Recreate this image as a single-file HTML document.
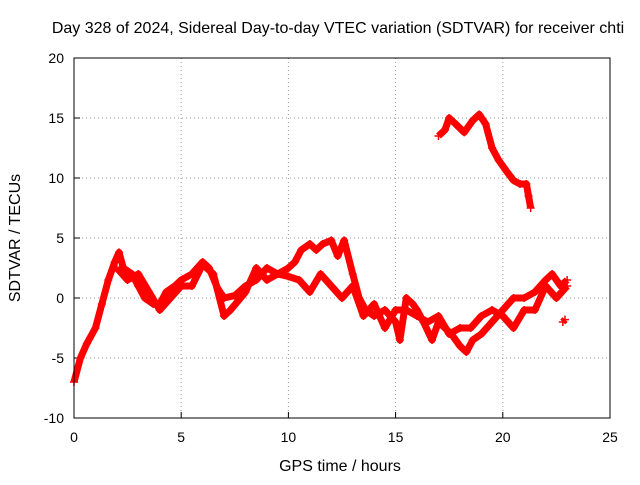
<!DOCTYPE html>
<html><head><meta charset="utf-8"><style>
body{margin:0;background:#fff;font-family:"Liberation Sans",sans-serif}
svg text{font-family:"Liberation Sans",sans-serif;font-size:14px;fill:#000}
svg text.big{font-size:16px}
</style></head><body>
<svg id="c" width="640" height="480">
<text class="big" x="338" y="33" text-anchor="middle">Day 328 of 2024, Sidereal Day-to-day VTEC variation (SDTVAR) for receiver chti</text>
<text class="big" x="340" y="471" text-anchor="middle">GPS time / hours</text>
<text class="big" transform="translate(20,238) rotate(-90)" text-anchor="middle">SDTVAR / TECUs</text>
<g id="grid"></g><g id="marks"></g>
<rect x="74" y="58" width="536" height="360" fill="none" stroke="#000"/>
</svg>
<script>
const xTicks=[0,5,10,15,20,25];
const yTicks=[-10,-5,0,5,10,15,20];
const seriesA=[[0,-7],[0.3,-5],[0.6,-3.8],[1,-2.5],[1.3,-0.5],[1.6,1.5],[1.9,3],[2.1,3.8],[2.3,2.5],[2.7,2],[3,1],[3.3,0],[3.7,-0.5],[4,-0.5],[4.3,0.5],[4.7,1],[5,1.5],[5.5,2],[6,3],[6.3,2.5],[6.7,0.8],[7,0],[7.5,0.2],[8,1],[8.5,1.5],[9,2.5],[9.5,2],[10,2.5],[10.3,3],[10.6,4],[11,4.5],[11.3,4],[11.6,4.5],[12,4.8],[12.3,3.5],[12.6,4.8],[13,2],[13.3,0],[13.6,-1],[14,-1.5],[14.5,-1],[15,-2],[15.2,-3.5],[15.5,0],[15.8,-0.5],[16,-1],[16.3,-2],[16.7,-3.5],[17,-2],[17.3,-2.5],[17.6,-3],[18,-4],[18.3,-4.5],[18.6,-3.5],[19,-3],[19.5,-2],[20,-1],[20.5,0],[21,0],[21.5,0.5],[22,1.5],[22.3,2],[22.7,1],[23,1.5]];
const seriesB=[[2,2.5],[2.5,1.5],[3,2],[3.5,0.5],[4,-1],[4.5,0],[5,1],[5.5,1],[6,2.8],[6.5,2],[7,-1.5],[7.3,-1],[8,0.5],[8.5,2.5],[9,1.5],[9.5,2],[10,1.8],[10.5,1.5],[11,0.5],[11.5,2],[12,1],[12.5,0],[13,1],[13.5,-1.5],[14,-0.5],[14.5,-2.5],[15,-1],[15.5,-1],[16,-1.5],[16.5,-2],[17,-1.5],[17.5,-3],[18,-2.5],[18.5,-2.5],[19,-1.5],[19.5,-1],[20,-1.5],[20.5,-2.5],[21,-1],[21.5,-1],[22,1],[22.5,0],[23,1]];
const seriesC=[[17,13.5],[17.3,14],[17.5,15],[17.8,14.5],[18.2,13.8],[18.6,14.8],[18.9,15.3],[19.2,14.5],[19.5,12.5],[19.8,11.5],[20.2,10.5],[20.5,9.8],[20.8,9.5],[21.1,9.5],[21.2,8.5],[21.3,7.5]];
const seriesD=[[22.8,-2],[22.9,-1.8]];
const X=v=>74+v*536/25, Y=v=>418-(v+10)*12;
const NS='http://www.w3.org/2000/svg';
const g=document.getElementById('grid'), m=document.getElementById('marks'), svg=document.getElementById('c');
function el(t,a,p){const e=document.createElementNS(NS,t);for(const k in a)e.setAttribute(k,a[k]);p.appendChild(e);return e;}
xTicks.forEach(t=>{
 if(t>0&&t<25){const l=el('line',{x1:X(t),x2:X(t),y1:58,y2:418,stroke:'#999','stroke-dasharray':'1,3'},g);}
 const tk=el('line',{x1:X(t),x2:X(t),y1:418,y2:412,stroke:'#000'},g);
 const tx=el('text',{x:X(t),y:442,'text-anchor':'middle'},svg);tx.textContent=t;
 
 
});
yTicks.forEach(t=>{
 if(t>-10&&t<20){const l=el('line',{x1:74,x2:610,y1:Y(t),y2:Y(t),stroke:'#999','stroke-dasharray':'1,3'},g);}
 const tk=el('line',{x1:74,x2:80,y1:Y(t),y2:Y(t),stroke:'#000'},g);
 const tx=el('text',{x:64,y:Y(t)+5,'text-anchor':'end'},svg);tx.textContent=t;
 
 
});
[seriesA,seriesB,seriesC,seriesD].forEach((s,i)=>{
 const p=el('polyline',{points:s.map(d=>X(d[0])+','+Y(d[1])).join(' '),fill:'none',stroke:'#f00','stroke-width':7,'stroke-linejoin':'round'},m);
 
 
 s.forEach(d=>{
  const c=el('path',{d:`M${X(d[0])-4},${Y(d[1])}h8M${X(d[0])},${Y(d[1])-4}v8`,stroke:'#f00','stroke-width':1.5},m);
  
  
 });
});
</script>
</body></html>
